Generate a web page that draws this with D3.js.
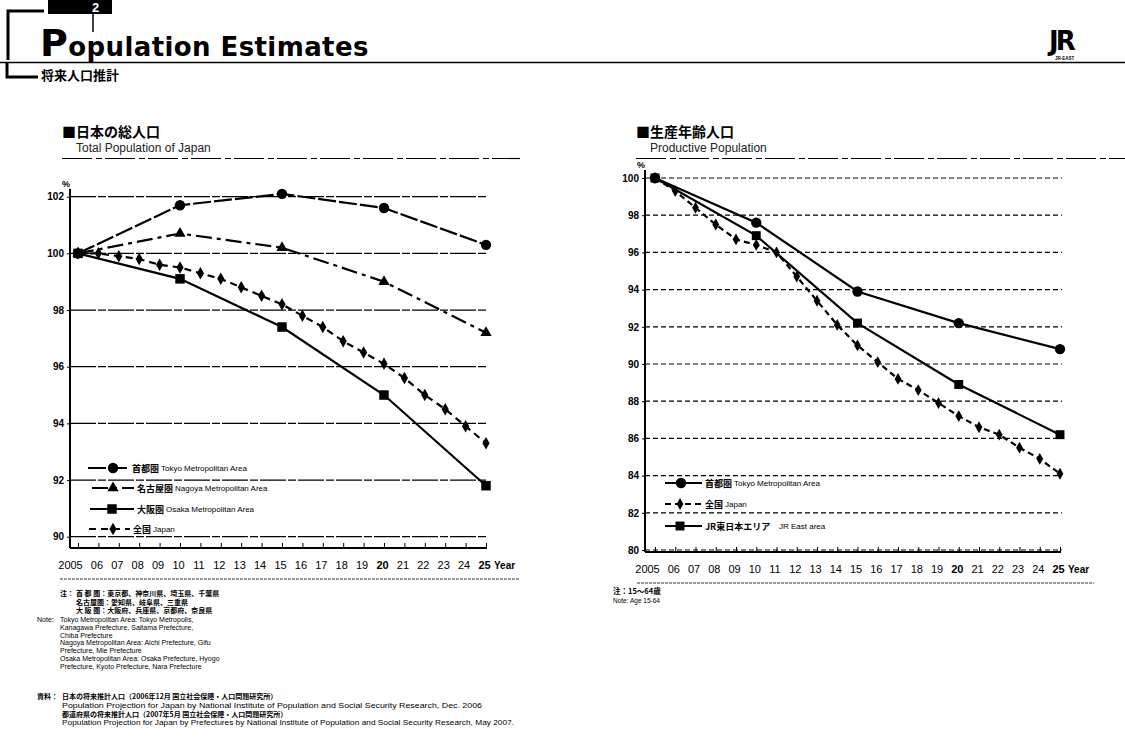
<!DOCTYPE html>
<meta charset="utf-8">
<head>
  <title>Population Estimates</title>
</head>

<style>
body {
  margin: 0;
  background: #fff;
  font-family: "Liberation Sans", Arial, "Noto Sans CJK JP", sans-serif;
  color: #000;
}
.jp { font-family: "Noto Sans CJK JP", sans-serif; }
</style>

<body>
  <svg width="1125" height="744"></svg>

  <script src="https://cdnjs.cloudflare.com/ajax/libs/d3/7.8.5/d3.min.js"></script>

  <script>
// data (index, 2005 = 100)
var years = [2005, 2006, 2007, 2008, 2009, 2010, 2011, 2012, 2013, 2014, 2015,
             2016, 2017, 2018, 2019, 2020, 2021, 2022, 2023, 2024, 2025];
var years5 = [2005, 2010, 2015, 2020, 2025];

// total population
var totalTokyo  = [100, 101.7, 102.1, 101.6, 100.3];
var totalNagoya = [100, 100.7, 100.2, 99.0, 97.2];
var totalOsaka  = [100, 99.1, 97.4, 95.0, 91.8];
var totalJapan  = [100, 100.0, 99.9, 99.8, 99.6, 99.5, 99.3, 99.1, 98.8, 98.5, 98.2,
                   97.8, 97.4, 96.9, 96.5, 96.1, 95.6, 95.0, 94.5, 93.9, 93.3];

// productive population (age 15-64)
var prodTokyo = [100, 97.6, 93.9, 92.2, 90.8];
var prodJR    = [100, 96.9, 92.2, 88.9, 86.2];
var prodJapan = [100, 99.3, 98.4, 97.5, 96.7, 96.4, 96.0, 94.7, 93.4, 92.1, 91.0,
                 90.1, 89.2, 88.6, 87.9, 87.2, 86.6, 86.2, 85.5, 84.9, 84.1];

var totalTicks = [90, 92, 94, 96, 98, 100, 102];
var prodTicks  = [80, 82, 84, 86, 88, 90, 92, 94, 96, 98, 100];

var svg = d3.select('svg');

// ---------- page header ----------
var head = svg.append('g');
head.append('path')
  .attr('d', 'M8,60 L8,11 L44,11')
  .attr('fill', 'none').attr('stroke', '#000').attr('stroke-width', 3);
head.append('rect').attr('x', 48).attr('y', 0).attr('width', 64).attr('height', 14).attr('fill', '#000');
head.append('text').attr('x', 92).attr('y', 12).attr('fill', '#fff')
  .attr('font-size', 13).attr('font-weight', 'bold').text('2');
head.append('line').attr('x1', 93).attr('x2', 93).attr('y1', 14).attr('y2', 32)
  .attr('stroke', '#000').attr('stroke-width', 1.5);
head.append('text').attr('x', 40).attr('y', 56)
  .attr('font-weight', 'bold').attr('font-family', '"DejaVu Sans", sans-serif')
  .attr('letter-spacing', 0.4)
  .call(function (t) {
    t.append('tspan').attr('font-size', 38).text('P');
    t.append('tspan').attr('font-size', 26).text('opulation Estimates');
  });
head.append('line').attr('x1', 0).attr('x2', 1125).attr('y1', 62.5).attr('y2', 62.5)
  .attr('stroke', '#000').attr('stroke-width', 1.5);
head.append('path')
  .attr('d', 'M7,63 L7,77 L38,77')
  .attr('fill', 'none').attr('stroke', '#000').attr('stroke-width', 3);
head.append('text').attr('class', 'jp').attr('x', 41).attr('y', 80)
  .attr('font-size', 13).attr('font-weight', 'bold').text('将来人口推計');

// JR logo
head.append('text').attr('x', 1049).attr('y', 50)
  .attr('font-size', 26).attr('font-weight', 'bold').attr('font-family', '"DejaVu Sans", sans-serif')
  .attr('letter-spacing', -3).text('JR');
head.append('text').attr('x', 1055).attr('y', 60)
  .attr('font-size', 4.5).attr('font-weight', 'bold').text('JR-EAST');

// ---------- chart builder ----------
function chart(opt) {
  var g = svg.append('g');
  var x = d3.scaleLinear().domain([2005, 2025]).range(opt.xr);
  var y = d3.scaleLinear().domain(opt.yd).range(opt.yr);

  // titles
  g.append('text').attr('class', 'jp').attr('x', opt.tx).attr('y', 137)
    .attr('font-size', 14).attr('font-weight', 'bold').text('■' + opt.title);
  g.append('text').attr('x', opt.tx + 14).attr('y', 152)
    .attr('font-size', 12).attr('fill', '#222').text(opt.sub);
  g.append('line').attr('x1', opt.tx).attr('x2', opt.rule).attr('y1', 158.5).attr('y2', 158.5)
    .attr('stroke', '#000').attr('stroke-width', 1.2).attr('stroke-dasharray', '30,4,6,3');

  // grid
  g.selectAll('.grid').data(opt.ticks.slice(0)).join('line')
    .attr('x1', opt.axisX).attr('x2', opt.xr[1] + 2)
    .attr('y1', d => y(d)).attr('y2', d => y(d))
    .attr('stroke', '#000').attr('stroke-width', 1.2)
    .attr('stroke-dasharray', opt.gridDash);

  // axes
  var ya = d3.axisLeft(y).tickValues(opt.ticks).tickSize(3).tickPadding(3);
  g.append('g').attr('transform', 'translate(' + opt.axisX + ',0)').call(ya)
    .call(a => a.select('.domain').remove())
    .selectAll('text').attr('font-size', 10).attr('font-weight', 'bold')
    .attr('font-family', '"Liberation Sans Narrow", "Liberation Sans", sans-serif');
  g.append('line').attr('x1', opt.axisX).attr('x2', opt.axisX)
    .attr('y1', opt.yr[1] - 8).attr('y2', opt.baseY)
    .attr('stroke', '#000').attr('stroke-width', 2);
  g.append('text').attr('x', opt.axisX - 4).attr('y', opt.yr[1] - 10)
    .attr('font-size', 9).attr('font-weight', 'bold').attr('text-anchor', 'middle').text('%');

  var xa = d3.axisBottom(x).tickValues(years).tickSize(-5).tickPadding(13)
    .tickFormat(d => d === 2005 ? '2005' : String(d).slice(2));
  var xg = g.append('g').attr('transform', 'translate(0,' + opt.baseY + ')').call(xa);
  xg.select('.domain').remove();
  xg.selectAll('text').attr('font-size', 11).attr('dx', -2)
    .attr('font-weight', d => (d === 2025 || d === 2020) ? 'bold' : 'normal');
  xg.selectAll('.tick').filter(d => d === 2005).select('text').attr('dx', -8);
  g.append('line').attr('x1', opt.axisX).attr('x2', opt.xr[1] + 1)
    .attr('y1', opt.baseY).attr('y2', opt.baseY)
    .attr('stroke', '#000').attr('stroke-width', 2);
  g.append('text').attr('x', x(2025) + 8).attr('y', opt.baseY + 21)
    .attr('font-size', 10).attr('font-weight', 'bold').text('Year');
  g.append('line').attr('x1', opt.xr[0] - 18).attr('x2', x(2025) + 34)
    .attr('y1', opt.baseY + 31).attr('y2', opt.baseY + 31)
    .attr('stroke', '#000').attr('stroke-width', 0.8).attr('stroke-dasharray', '3,1');

  // series
  var line = d3.line().x(d => x(d[0])).y(d => y(d[1]));
  opt.series.forEach(function (s) {
    var pts = s.xs.map((yr, i) => [yr, s.vals[i]]);
    g.append('path').datum(pts).attr('d', line)
      .attr('fill', 'none').attr('stroke', '#000').attr('stroke-width', 2.2)
      .attr('stroke-dasharray', s.dash || null);
    g.selectAll(null).data(pts).join('path')
      .attr('transform', d => 'translate(' + x(d[0]) + ',' + y(d[1]) + ')')
      .attr('d', d3.symbol().type(s.sym).size(s.size))
      .attr('fill', '#000');
  });

  // legend
  opt.series.forEach(function (s) {
    var lg = g.append('g').attr('transform', 'translate(' + s.lx + ',' + s.ly + ')');
    lg.append('line').attr('x1', 0).attr('x2', s.lw).attr('y1', 0).attr('y2', 0)
      .attr('stroke', '#000').attr('stroke-width', 2).attr('stroke-dasharray', s.dash || null);
    lg.append('path').attr('transform', 'translate(' + s.lm + ',0)')
      .attr('d', d3.symbol().type(s.sym).size(s.size)).attr('fill', '#000');
    lg.append('text').attr('class', 'jp').attr('x', s.lw + 3).attr('y', 3.5)
      .attr('font-size', 9).attr('font-weight', 'bold').text(s.jp);
    lg.append('text').attr('x', s.lw + 5 + s.jp.length * 9).attr('y', 3)
      .attr('font-size', 8).text(s.en);
  });
  return g;
}

chart({
  title: '日本の総人口', sub: 'Total Population of Japan',
  tx: 62, rule: 520,
  xr: [78, 486], yd: [90, 102], yr: [536.7, 196.7],
  axisX: 70, baseY: 548, ticks: totalTicks, gridDash: '26,2,8,2',
  series: [
    {xs: years5, vals: totalTokyo, sym: d3.symbolCircle, size: 85, dash: '18,3',
     jp: '首都圏', en: 'Tokyo Metropolitan Area', lx: 88, ly: 468, lw: 41, lm: 25},
    {xs: years5, vals: totalNagoya, sym: d3.symbolTriangle, size: 55, dash: '16,5,4,5',
     jp: '名古屋圏', en: 'Nagoya Metropolitan Area', lx: 92, ly: 488, lw: 42, lm: 21},
    {xs: years5, vals: totalOsaka, sym: d3.symbolSquare, size: 90, dash: null,
     jp: '大阪圏', en: 'Osaka Metropolitan Area', lx: 90, ly: 509, lw: 44, lm: 22},
    {xs: years, vals: totalJapan, sym: d3.symbolDiamond, size: 45, dash: '7,5',
     jp: '全国', en: 'Japan', lx: 89, ly: 529, lw: 41, lm: 24}
  ]
});

chart({
  title: '生産年齢人口', sub: 'Productive Population',
  tx: 636, rule: 1125,
  xr: [655, 1060], yd: [80, 100], yr: [550, 178],
  axisX: 645, baseY: 552, ticks: prodTicks, gridDash: '5,3',
  series: [
    {xs: years5, vals: prodTokyo, sym: d3.symbolCircle, size: 85, dash: null,
     jp: '首都圏', en: 'Tokyo Metropolitan Area', lx: 665, ly: 483, lw: 37, lm: 16},
    {xs: years, vals: prodJapan, sym: d3.symbolDiamond, size: 40, dash: '6,4',
     jp: '全国', en: 'Japan', lx: 665, ly: 504, lw: 37, lm: 15},
    {xs: years5, vals: prodJR, sym: d3.symbolSquare, size: 80, dash: null,
     jp: 'JR東日本エリア', en: 'JR East area', lx: 665, ly: 526, lw: 37, lm: 15}
  ]
});

// ---------- footnotes ----------
var notesJp = [
  ['注：', '首 都 圏：東京都、神奈川県、埼玉県、千葉県'],
  ['', '名古屋圏：愛知県、岐阜県、三重県'],
  ['', '大 阪 圏：大阪府、兵庫県、京都府、奈良県']
];
var notesEn = [
  ['Note:', 'Tokyo Metropolitan Area: Tokyo Metropolis,'],
  ['', 'Kanagawa Prefecture, Saitama Prefecture,'],
  ['', 'Chiba Prefecture'],
  ['', 'Nagoya Metropolitan Area: Aichi Prefecture, Gifu'],
  ['', 'Prefecture, Mie Prefecture'],
  ['', 'Osaka Metropolitan Area: Osaka Prefecture, Hyogo'],
  ['', 'Prefecture, Kyoto Prefecture, Nara Prefecture']
];
var sources = [
  ['資料：', '日本の将来推計人口（2006年12月 国立社会保障・人口問題研究所）', true],
  ['', 'Population Projection for Japan by National Institute of Population and Social Security Research, Dec. 2006', false],
  ['', '都道府県の将来推計人口（2007年5月 国立社会保障・人口問題研究所）', true],
  ['', 'Population Projection for Japan by Prefectures by National Institute of Population and Social Security Research, May 2007.', false]
];
var sourceY = [699, 707.5, 716.5, 725];
var sourceW = [null, 420, null, 452];

var foot = svg.append('g');
notesJp.forEach(function (r, i) {
  var yy = 596 + i * 8.5;
  foot.append('text').attr('class', 'jp').attr('x', 60).attr('y', yy)
    .attr('font-size', 7).attr('font-weight', 'bold').text(r[0]);
  foot.append('text').attr('class', 'jp').attr('x', 76).attr('y', yy)
    .attr('font-size', 7).attr('font-weight', 'bold').text(r[1]);
});
notesEn.forEach(function (r, i) {
  var yy = 622 + i * 7.8;
  foot.append('text').attr('x', 37).attr('y', yy).attr('font-size', 7).text(r[0]);
  foot.append('text').attr('x', 60).attr('y', yy).attr('font-size', 7).text(r[1]);
});
sources.forEach(function (r, i) {
  var yy = sourceY[i];
  foot.append('text').attr('class', 'jp').attr('x', 37).attr('y', yy)
    .attr('font-size', 7).attr('font-weight', 'bold').text(r[0]);
  var t = foot.append('text').attr('class', r[2] ? 'jp' : null).attr('x', 62).attr('y', yy)
    .attr('font-size', r[2] ? 7 : 6.5).attr('font-weight', r[2] ? 'bold' : 'normal').text(r[1]);
  if (sourceW[i]) t.attr('textLength', sourceW[i]).attr('lengthAdjust', 'spacingAndGlyphs');
});

foot.append('text').attr('class', 'jp').attr('x', 613).attr('y', 594)
  .attr('font-size', 7.5).attr('font-weight', 'bold').text('注：15～64歳');
foot.append('text').attr('x', 613).attr('y', 603)
  .attr('font-size', 6.5).text('Note: Age 15-64');
  </script>
</body>
</html>
